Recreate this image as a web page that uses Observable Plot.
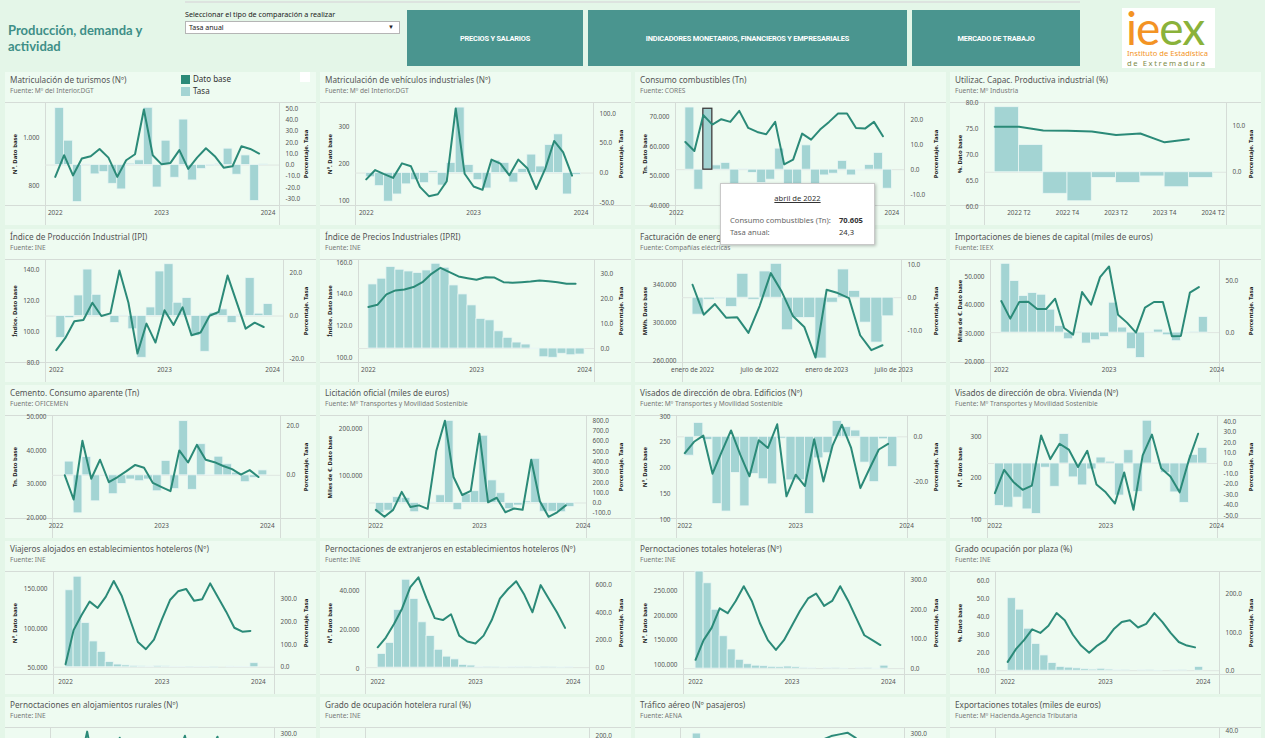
<!DOCTYPE html>
<html lang="es"><head><meta charset="utf-8">
<script src="https://cdn.jsdelivr.net/npm/d3@7"></script>
<script src="https://cdn.jsdelivr.net/npm/@observablehq/plot@0.6"></script>
<style>
html,body{margin:0;padding:0;}
body{width:1265px;height:738px;overflow:hidden;position:relative;background:#e4f6e8;font-family:"Noto Sans","Open Sans",sans-serif;}
.topline{position:absolute;left:185px;top:1px;width:895px;height:2px;background:#dde3df;}
.maintitle{position:absolute;left:8px;top:22px;width:170px;font:bold 13px Lato,sans-serif;color:#3e8f87;line-height:16px;}
.ddlabel{position:absolute;left:185px;top:9px;font-size:7.2px;color:#222;}
.dd{position:absolute;left:185px;top:21px;width:215px;height:13px;background:#fff;border:1px solid #b5b5b5;font-size:7px;line-height:11px;box-sizing:border-box;padding-left:3px;color:#222;}
.dd span{position:absolute;right:5px;top:0;font-size:6px;}
.btn{position:absolute;top:10px;height:56px;background:#4a958f;color:#fff;font:bold 7.4px Roboto,sans-serif;display:flex;align-items:center;justify-content:center;letter-spacing:-0.2px;}
.logo{position:absolute;left:1122px;top:8px;width:93px;height:60px;background:#fff;}
.logo .big{position:absolute;left:4px;top:0;height:40px;font:46px Lato,sans-serif;letter-spacing:-1px;line-height:40px;}
.logo .l1{position:absolute;left:5px;top:41px;font-size:7.6px;line-height:9px;color:#f39324;white-space:nowrap;}
.logo .l2{position:absolute;left:5px;top:51px;font-size:7.6px;line-height:9px;color:#7d8c4a;letter-spacing:1.6px;white-space:nowrap;}
.panel{position:absolute;width:311px;height:153px;background:#eefbf1;}
.panel svg{position:absolute;left:0;top:28px;}
.ttl{position:absolute;left:5px;top:2px;font-size:8.2px;color:#555;white-space:nowrap;}
.src{position:absolute;left:5px;top:14px;font-size:6.6px;color:#777;white-space:nowrap;}
.fl{position:absolute;background:#d5dcd7;}
.yt{position:absolute;width:110px;text-align:center;transform:rotate(-90deg);font:bold 6px "Noto Sans",sans-serif;color:#222;line-height:8px;white-space:nowrap;}
.leg{position:absolute;font-size:8px;color:#333;}
.sw{position:absolute;width:9px;height:9px;}
.tip{position:absolute;left:720px;top:183px;width:153px;height:60px;background:#fff;border:1px solid #c9c9c9;box-shadow:1px 1px 3px rgba(0,0,0,0.25);font-size:7.6px;color:#666;z-index:10;}
</style></head><body>
<div class="topline"></div>
<div class="maintitle">Producción, demanda y actividad</div>
<div class="ddlabel">Seleccionar el tipo de comparación a realizar</div>
<div class="dd">Tasa anual<span>▼</span></div>
<div class="btn" style="left:407px;width:176px;">PRECIOS Y SALARIOS</div>
<div class="btn" style="left:588px;width:319px;">INDICADORES MONETARIOS, FINANCIEROS Y EMPRESARIALES</div>
<div class="btn" style="left:912px;width:168px;">MERCADO DE TRABAJO</div>
<div class="logo"><div class="big"><span style="color:#f39324">ie</span><span style="color:#8ab23a">ex</span></div>
<div class="l1">Instituto de Estadística</div><div class="l2">de Extremadura</div></div>
<script>
// ---------- data ----------
const yearTicks = ["2022", "2023", "2024"];
const quarterTicks = ["2022 T2", "2022 T4", "2023 T2", "2023 T4", "2024 T2"];
const energyTicks = ["enero de 2022", "julio de 2022", "enero de 2023", "julio de 2023"];

const turismosBase = [838,928,844,914,924,954,918,838,907,932,1118,928,890,896,949,871,918,957,924,876,882,965,954,935];
const turismosTasa = [50.9,21.7,-33,0.5,-8.3,-6.3,-16.7,-21.7,1.2,4.2,51,-20,21.7,-11.3,40.5,-13.7,-3.6,-1,1,14.6,-8.6,8.6,-32,0.6];

const vehiculosBase = [159,184,173,163,202,194,139,114,119,154,349,174,140,131,212,201,170,212,189,133,187,262,232,169];
const vehiculosTasa = [-7,-22,-48,-36,-19,-12,-17,3,-21,17,110,13.5,-12,-26,21,17,-16,7,31,11,47,65,-36,-3];

const combustiblesBase = [61573,58539,70605,67416,69213,68315,72022,66292,64944,64157,68315,54045,55618,64382,62360,65730,68315,71124,71124,66292,66067,68315,63483];
const combustiblesTasa = [24.8,-8,24.3,1.7,2.7,-7,0.3,-1.3,-5.3,-4,8.4,-12,-10,9.7,-10,-2.3,-1.6,3.5,-2.3,-0.3,1.9,6.7,-7.6];

const capacidadBase = [75.4,75.4,74.7,74.65,74.5,73.8,74.1,72.4,73.0];
const capacidadTasa = [13.9,5.8,-4.6,-6.2,-1.2,-2.3,-0.9,-3.2,-1.2];

const ipiBase = [88.0,95.9,106.7,107.5,118.7,110.1,111.8,139.6,118.7,85.8,105.2,92.9,113.8,104.3,115.7,97.6,99.4,110.3,112.7,136.3,119.1,101.9,105.8,103.0];
const ipiTasa = [-10.2,-1,9.6,21.7,9.9,0.3,-3.3,0.2,-6.2,-19.5,4,20.8,24.2,6.2,8.4,-9.3,-16.7,1.5,3.1,-3.3,0.4,17.7,1.1,5.6];

const ipriBase = [132.1,133.5,140,142.5,143.1,144.6,147.7,152.9,156.7,154.0,151.3,150.2,149.2,150.8,150.6,147.7,147.3,147.7,148.1,148.8,148.3,147.7,146.7,146.7];
const ipriTasa = [25.7,28,32.7,31.6,30.9,30.3,31.3,34,32.4,25.3,21.7,17.3,11.9,11.3,6.9,4.3,2.4,1.6,-0.3,-3.5,-3.7,-2.1,-2.7,-2.4];

const energiaBase = [340704,309123,320352,305965,306316,289824,318247,352986,332985,307369,296140,263857,335441,331932,326668,287368,271577,276841];
const energiaTasa = [-5.1,-0.6,-0.3,-2.8,7.2,-0.6,7.9,10.2,-9.8,-6.1,-6.1,-18.3,-1.5,8.5,2.0,-7.5,-13.5,-5.6];

const importBase = [41397,35233,41049,41165,38606,38606,42212,31977,29651,44538,40118,49771,53493,36629,33838,30349,39071,41049,41049,29070,29186,44305,46282];
const importTasa = [67.2,50.3,35.7,38.6,37.0,22.4,6.5,-6.5,0.3,-10.7,-7.5,-4.2,29.2,4.9,-16.2,-24.7,0.6,2.9,-2.6,-8.4,-0.3,0.4,15.3];

const cementoBase = [32681,25464,42991,31650,37320,30619,32165,33918,35774,34949,30412,29175,27938,40104,36495,41753,37320,36598,35464,34536,32887,34227,32165];
const cementoTasa = [5.6,-15.5,7.5,-10.6,0.2,-7.7,-3.5,-1.7,-2.4,-1.7,-6.5,5.9,-5.6,22.1,-5.9,12.7,0.2,7.6,4.5,1.1,-2.8,-1,2];

const licitBase = [27407,12593,27407,65926,33333,37037,29630,153333,218519,97778,59259,68148,190370,43704,53333,22222,30370,27407,134815,45926,12593,22222,37037];
const licitTasa = [-100,-75,57,50,-90,-5,5,75,800,-70,85,115,655,220,95,-60,-25,15,430,-85,-85,-90,-40];

const edificiosBase = [229,251,263,189,232,273,226,184,254,239,285,145,187,165,256,174,244,284,239,161,199,236,247];
const edificiosTasa = [-8.4,6.2,-1.4,-30,-33.3,-16.1,-31,-16.6,-18.9,-21.2,-0.8,-19.4,-19.4,-34.4,-9.6,-7.3,7,4.3,2.8,-11.5,-20.2,-1.1,-13.5];

const viviendaBase = [164,220,191,172,182,303,246,283,269,227,266,185,166,139,214,124,255,305,224,204,166,244,307];
const viviendaTasa = [-40.7,-42.3,-32.7,-44,-48.3,-4,-22.3,28.3,-13.3,-21,-5.7,5.7,1.7,-30.7,12.7,-27.3,41,0.3,-9,-27.7,-37.7,8.3,15];

const viajerosBase = [55000,98000,117000,134000,126000,140000,160000,141000,112000,83000,74000,86000,112000,136000,147000,150000,135000,137000,157000,139000,121000,101000,96000,97000];
const viajerosTasa = [340,400,195,114,68,23,12,8,6,4,3,5,4,2,1,-1,2,1,-2,0,3,2,1,18];

const extranjerosBase = [11000,16000,23000,31000,42000,47000,36000,26000,25000,28000,17000,14000,13000,17000,25000,36000,41000,45000,38000,29000,43000,36000,29000,21000];
const extranjerosTasa = [100,180,420,640,500,330,230,130,80,60,20,15,5,3,2,-1,4,6,2,1,3,2,-3,5];

const totalesBase = [110000,150000,175000,215000,205000,230000,260000,230000,185000,150000,130000,150000,180000,210000,235000,245000,220000,230000,260000,230000,195000,160000,150000,140000];
const totalesTasa = [330,290,200,110,65,30,15,10,8,6,5,7,5,3,2,0,2,1,-1,0,2,1,-2,10];

const ocupacionBase = [15,22,27,33,31,35,42,38,30,24,20,24,27,33,37,38,34,36,42,37,31,26,24,23];
const ocupacionTasa = [190,160,110,70,40,20,10,8,6,4,3,5,3,2,1,0,2,1,-1,0,2,1,0,10];

const ruralesBase = [30000,35000,60000,96000,55000,50000,70000,90000,60000,65000,40000,55000,35000,40000,70000,92000,60000,55000,75000,91000,58000,62000,42000,50000];
const ruralesTasa = [150,120,200,260,60,30,10,5,8,12,4,6,15,14,16,-4,9,10,7,1,-3,8,5,-9];

const ruralOcupBase = [8,9,14,18,12,11,16,22,14,15,10,13,9,10,15,19,13,12,17,21,13,14,10,12];
const ruralOcupTasa = [100,90,150,180,40,20,8,4,6,9,3,5,12,11,7,5,8,9,6,-4,-7,-6,0,-8];

const aereoBase = [22000,30000,45000,55000,62000,64000,66000,68000,66000,60000,40000,35000,30000,36000,50000,60000,68000,70000,71000,72000,69000,63000,45000,40000];
const aereoTasa = [300,250,150,90,50,30,20,15,10,8,5,4,36,20,11,9,10,9,8,6,5,5,12,14];

const exportBase = [150000,160000,185000,170000,190000,200000,175000,160000,195000,190000,200000,185000,165000,170000,180000,160000,185000,175000,170000,150000,180000,175000,190000,170000];
const exportTasa = [20,22,25,10,18,28,5,12,24,15,16,10,10,6,-3,-6,-3,-12,-3,-6,-8,-8,-5,-8];

// ---------- helpers ----------
const fmtInt = v => d3.format(",.0f")(v).replace(/,/g, ".");
const fmtDec = v => v.toFixed(1);
const yearPos = [0, 12, 24];
const quarterPos = [1, 3, 5, 7, 9];
const energyPos = [0, 6, 12, 18];
const PW = 311, PH = 153;
const colX = [5, 320, 635, 950];
const rowY = [72, 229, 385, 541, 697];
const pct = "Porcentaje. Tasa";
const yr = {xt: yearPos, xl: yearTicks};

const panels = [
 {title:"Matriculación de turismos (Nº)", source:"Mº del Interior.DGT", lt:"Nº. Dato base", base:turismosBase, tasa:turismosTasa, start:0, xd:[-1.1,25.3], ld:[719,1147], lticks:[800,1000], lfmt:fmtInt, rd:[-36,55.7], rticks:[-30,-20,-10,0,10,20,30,40,50], ml:40, mr:37, ...yr},
 {title:"Matriculación de vehículos industriales (Nº)", source:"Mº del Interior.DGT", lt:"Nº. Dato base", base:vehiculosBase, tasa:vehiculosTasa, start:0, xd:[-1.2,25.4], ld:[89,365], lticks:[100,200,300], lfmt:fmtInt, rd:[-54.5,118.5], rticks:[-50,0,50,100], ml:35, mr:38, ...yr},
 {title:"Consumo combustibles (Tn)", source:"CORES", lt:"Tn. Dato base", base:combustiblesBase, tasa:combustiblesTasa, start:1, xd:[-0.1,25.4], ld:[40225,74830], lticks:[40000,50000,60000,70000], lfmt:fmtInt, rd:[-14.3,26.8], rticks:[-10,0,10,20], ml:40, mr:42, highlight:3, ...yr},
 {title:"Utilizac. Capac. Productiva industrial (%)", source:"Mº Industria", lt:"%. Dato base", base:capacidadBase, tasa:capacidadTasa, start:0, xd:[-0.42,9.55], ld:[60.2,80.1], lticks:[60,65,70,75,80], lfmt:fmtDec, rd:[-7.1,14.9], rticks:[0,10], ml:34, mr:35, xt:quarterPos, xl:quarterTicks},

 {title:"Índice de Producción Industrial (IPI)", source:"INE", lt:"Índice. Dato base", base:ipiBase, tasa:ipiTasa, start:0, xd:[-1.2,25.2], ld:[80,146.7], lticks:[80,100,120,140], lfmt:fmtDec, rd:[-21.7,26.4], rticks:[-20,0,20], ml:40, mr:33, ...yr},
 {title:"Índice de Precios Industriales (IPRI)", source:"INE", lt:"Índice. Dato base", base:ipriBase, tasa:ipriTasa, start:0, xd:[-1.1,25.1], ld:[97.3,161.9], lticks:[100,120,140,160], lfmt:fmtDec, rd:[-5.6,35.7], rticks:[0,10,20,30], ml:38, mr:37, ...yr},
 {title:"Facturación de energía", source:"Compañías eléctricas", lt:"MWh. Dato base", base:energiaBase, tasa:energiaTasa, start:0, xd:[-0.9,18.7], ld:[258596,367368], lticks:[260000,300000,340000], lfmt:fmtInt, rd:[-19.5,11.5], rticks:[-10,0,10], ml:47, mr:45, xt:energyPos, xl:energyTicks},
 {title:"Importaciones de bienes de capital (miles de euros)", source:"IEEX", lt:"Miles de €. Dato base", base:importBase, tasa:importTasa, start:0, xd:[-1.2,24.3], ld:[19884,55930], lticks:[20000,30000,40000,50000], lfmt:fmtInt, rd:[-29.2,71.4], rticks:[0,50], ml:40, mr:42, ...yr},

 {title:"Cemento. Consumo aparente (Tn)", source:"OFICEMEN", lt:"Tn. Dato base", base:cementoBase, tasa:cementoTasa, start:1, xd:[-0.4,25.5], ld:[19794,50516], lticks:[20000,30000,40000,50000], lfmt:fmtInt, rd:[-17.6,24.4], rticks:[0,20], ml:47, mr:36, ...yr},
 {title:"Licitación oficial (miles de euros)", source:"Mº Transportes y Movilidad Sostenible", lt:"Miles de €. Dato base", base:licitBase, tasa:licitTasa, start:0, xd:[-0.85,24.4], ld:[8889,229630], lticks:[100000,200000], lfmt:fmtInt, rd:[-151,852], rticks:[-100,0,100,200,300,400,500,600,700,800], ml:48, mr:45, ...yr},
 {title:"Visados de dirección de obra. Edificios (Nº)", source:"Mº Transportes y Movilidad Sostenible", lt:"Nº. Dato base", base:edificiosBase, tasa:edificiosTasa, start:0, xd:[-0.9,24.1], ld:[102,302], lticks:[100,150,200,250,300], lfmt:fmtInt, rd:[-36.4,9.5], rticks:[-20,0], ml:41, mr:39, ...yr},
 {title:"Visados de dirección de obra. Vivienda (Nº)", source:"Mº Transportes y Movilidad Sostenible", lt:"Nº. Dato base", base:viviendaBase, tasa:viviendaTasa, start:0, xd:[-0.8,24.1], ld:[103,351], lticks:[100,200,300], lfmt:fmtInt, rd:[-52.7,46], rticks:[-50,-40,-30,-20,-10,0,10,20,30,40], ml:37, mr:44, ...yr},

 {title:"Viajeros alojados en establecimientos hoteleros (Nº)", source:"INE", lt:"Nº. Dato base", base:viajerosBase, tasa:viajerosTasa, start:0, xd:[-1.5,26], ld:[42000,172000], lticks:[50000,100000,150000], lfmt:fmtInt, rd:[-32,423], rticks:[0,100,200,300], ml:48, mr:42, ...yr},
 {title:"Pernoctaciones de extranjeros en establecimientos hoteleros (Nº)", source:"INE", lt:"Nº. Dato base", base:extranjerosBase, tasa:extranjerosTasa, start:0, xd:[-1.5,26], ld:[-3000,50000], lticks:[0,20000,40000], lfmt:fmtInt, rd:[-50,700], rticks:[0,200,400,600], ml:45, mr:42, ...yr},
 {title:"Pernoctaciones totales hoteleras (Nº)", source:"INE", lt:"Nº. Dato base", base:totalesBase, tasa:totalesTasa, start:0, xd:[-1.5,26], ld:[80000,290000], lticks:[100000,150000,200000,250000], lfmt:fmtInt, rd:[-20,330], rticks:[0,100,200,300], ml:48, mr:42, ...yr},
 {title:"Grado ocupación por plaza (%)", source:"INE", lt:"%. Dato base", base:ocupacionBase, tasa:ocupacionTasa, start:0, xd:[-1.5,26], ld:[8,65], lticks:[10,20,30,40,50,60], lfmt:fmtDec, rd:[-10,260], rticks:[0,100,200], ml:45, mr:42, ...yr},

 {title:"Pernoctaciones en alojamientos rurales (Nº)", source:"INE", lt:"Nº. Dato base", base:ruralesBase, tasa:ruralesTasa, start:0, xd:[-1.5,26], ld:[0,100000], lticks:[0,50000], lfmt:fmtInt, rd:[-20,320], rticks:[0,100,200,300], ml:45, mr:42, ...yr},
 {title:"Grado de ocupación hotelera rural (%)", source:"INE", lt:"%. Dato base", base:ruralOcupBase, tasa:ruralOcupTasa, start:0, xd:[-1.5,26], ld:[0,30], lticks:[0,10,20], lfmt:fmtDec, rd:[-20,220], rticks:[0,100,200], ml:45, mr:42, ...yr},
 {title:"Tráfico aéreo (Nº pasajeros)", source:"AENA", lt:"Nº. Dato base", base:aereoBase, tasa:aereoTasa, start:0, xd:[-1.5,26], ld:[15000,75000], lticks:[20000,40000,60000], lfmt:fmtInt, rd:[-20,320], rticks:[0,100,200,300], ml:45, mr:42, ...yr},
 {title:"Exportaciones totales (miles de euros)", source:"Mº Hacienda.Agencia Tributaria", lt:"Miles de €. Dato base", base:exportBase, tasa:exportTasa, start:0, xd:[-1.5,26], ld:[130000,215000], lticks:[150000,200000], lfmt:fmtInt, rd:[-15,42], rticks:[-10,0,10,20,30,40], ml:45, mr:42, ...yr}
];

function fl(el, l, t, w, h) {
  const d = document.createElement("div");
  d.className = "fl";
  d.style.cssText = `left:${l}px;top:${t}px;width:${w}px;height:${h}px;`;
  el.appendChild(d);
}

function drawPanel(p, col, row) {
  const el = document.createElement("div");
  el.className = "panel";
  el.style.left = colX[col] + "px";
  el.style.top = rowY[row] + "px";
  document.body.appendChild(el);
  el.insertAdjacentHTML("beforeend", `<div class="ttl">${p.title}</div><div class="src">Fuente: ${p.source}</div>`);
  const data = p.base.map((b, i) => ({x: p.start + i, base: b, tasa: p.tasa[i]}));
  const H = 124, mt = 2, mb = 19, ml = p.ml, mr = p.mr;
  const top = 28;
  fl(el, 0, top + mt, PW, 1);
  fl(el, 0, top + H - mb, PW, 1);
  fl(el, ml, top + mt, 1, PH - top - mt);
  fl(el, PW - mr, top + mt, 1, PH - top - mt);
  const common = {width: PW, height: H, marginTop: mt, marginBottom: mb, marginLeft: ml, marginRight: mr,
    style: "background:transparent;font:6.4px 'Noto Sans',sans-serif;color:#555;overflow:visible;"};
  const marks = [
    Plot.ruleY([0], {stroke: "#dfe6e1"}),
    Plot.rectY(data, {x1: "x", x2: d => d.x + 1, y: "tasa", fill: "#a3d4d3", stroke: "#eaf7f4", strokeWidth: 0.8}),
    Plot.axisY({anchor: "right", ticks: p.rticks, tickFormat: fmtDec, tickSize: 0, tickPadding: 6, label: null}),
    Plot.axisX({ticks: p.xt, tickFormat: v => p.xl[p.xt.indexOf(v)], tickSize: 0, tickPadding: 5, label: null})
  ];
  if (p.highlight != null) {
    marks.push(Plot.rectY(data.filter(d => d.x === p.highlight), {x1: "x", x2: d => d.x + 1, y: "tasa", fill: "none", stroke: "#3b3b3b", strokeWidth: 1.3}));
  }
  const bars = Plot.plot({...common, x: {type: "linear", domain: p.xd}, y: {domain: p.rd}, marks});
  const line = Plot.plot({...common, x: {type: "linear", domain: p.xd, axis: null}, y: {domain: p.ld},
    marks: [
      Plot.line(data, {x: "x", y: "base", stroke: "#2b8a78", strokeWidth: 2}),
      Plot.axisY({anchor: "left", ticks: p.lticks, tickFormat: p.lfmt, tickSize: 0, tickPadding: 6, label: null})
    ]});
  el.appendChild(bars);
  el.appendChild(line);
  const cy = top + mt + (H - mt - mb) / 2 - 4;
  el.insertAdjacentHTML("beforeend",
    `<div class="yt" style="left:${10 - 55}px;top:${cy}px">${p.lt}</div>` +
    `<div class="yt" style="left:${PW - 10 - 55}px;top:${cy}px">${pct}</div>`);
}

panels.forEach((p, i) => drawPanel(p, i % 4, Math.floor(i / 4)));

// legend in first panel and tooltip
document.body.insertAdjacentHTML("beforeend", `
<div class="sw" style="left:181px;top:75px;background:#2b8a78"></div><div class="leg" style="left:193px;top:73px">Dato base</div>
<div class="sw" style="left:181px;top:87px;background:#a3d4d3"></div><div class="leg" style="left:193px;top:85px">Tasa</div>
<div class="sw" style="left:300px;top:72px;width:10px;height:10px;background:#fff"></div>
<div class="tip">
  <div style="position:absolute;left:0;width:153px;top:9px;text-align:center;color:#333;text-decoration:underline;">abril de 2022</div>
  <div style="position:absolute;left:9px;top:31px;">Consumo combustibles (Tn):</div>
  <div style="position:absolute;left:118px;top:31px;color:#333;font-weight:bold;">70.605</div>
  <div style="position:absolute;left:9px;top:43px;">Tasa anual:</div>
  <div style="position:absolute;left:118px;top:43px;color:#333;">24,3</div>
</div>`);
</script>
</body></html>
